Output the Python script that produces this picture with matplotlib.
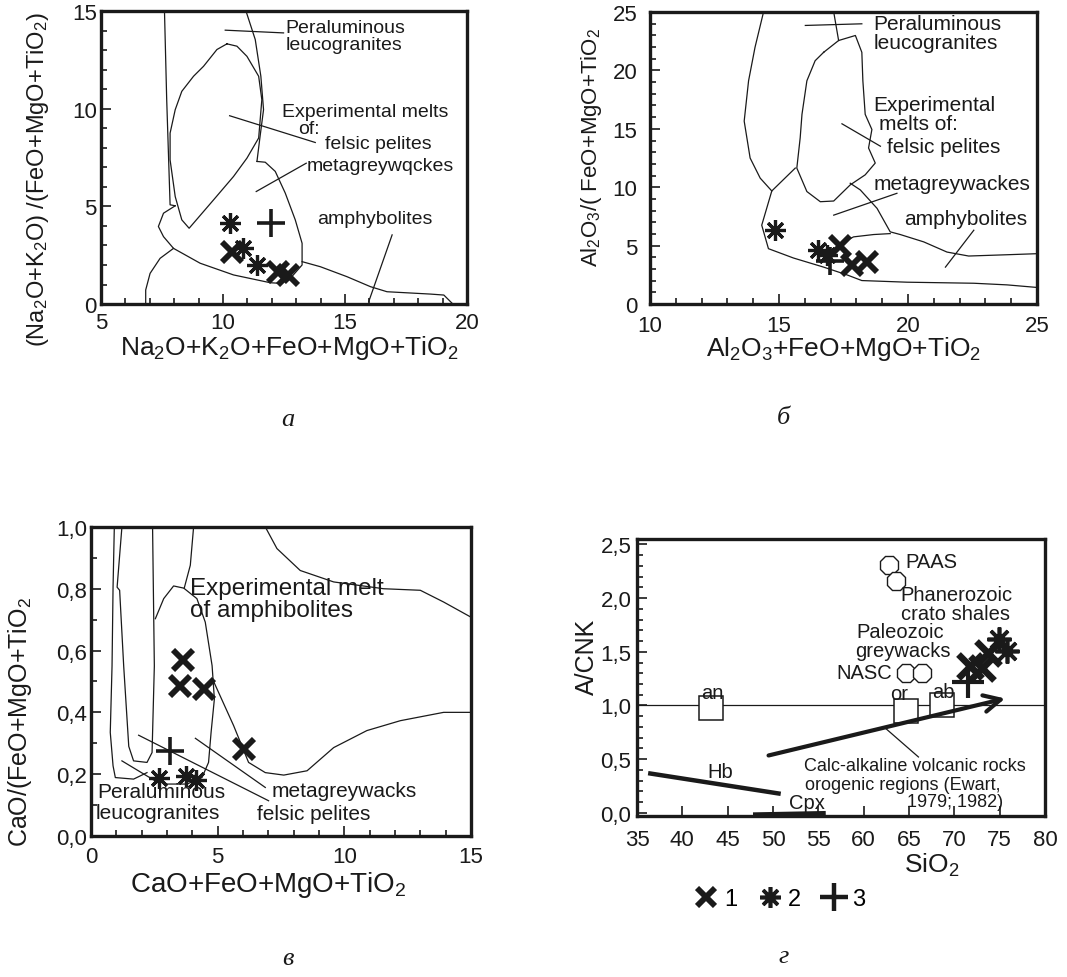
import numpy as np
import matplotlib.pyplot as plt
from matplotlib.lines import Line2D
from matplotlib.ticker import MultipleLocator, FuncFormatter

plt.rcParams['font.family'] = ['Liberation Sans', 'DejaVu Sans']
plt.rcParams['mathtext.fontset'] = 'custom'
plt.rcParams['mathtext.rm'] = 'Liberation Sans'
plt.rcParams['mathtext.it'] = 'Liberation Sans:italic'
plt.rcParams['mathtext.bf'] = 'Liberation Sans:bold'

INK = '#1a1a1a'

# ---------------- panel a: (Na2O+K2O)/(FeO+MgO+TiO2) ----------------
a_x1 = [10.36, 12.26, 12.67]
a_y1 = [2.68, 1.64, 1.49]
a_x2 = [10.29, 10.82, 11.39]
a_y2 = [4.14, 2.87, 2.00]
a_x3 = [11.97]
a_y3 = [4.14]

a_fields = [
    [(7.60, 15.0), (7.69, 10.5), (7.83, 5.08), (8.04, 5.03)],
    [(10.94, 15.0), (11.32, 13.54), (11.55, 11.66), (11.66, 9.95), (11.50, 8.41), (11.39, 7.30)],
    [(10.16, 13.32), (10.57, 13.20), (10.98, 12.68), (11.46, 11.66), (11.59, 10.46), (11.46, 8.50),
     (10.98, 7.47), (10.43, 6.53), (9.61, 5.33), (8.79, 4.14), (8.61, 3.88), (8.31, 4.31),
     (8.04, 5.50), (7.83, 7.38), (7.83, 8.75), (8.04, 9.95), (8.31, 10.89), (8.79, 11.66),
     (9.20, 12.17), (9.75, 13.03), (10.16, 13.32)],
    [(8.04, 5.03), (7.56, 4.65), (7.35, 3.97), (7.56, 3.45), (7.97, 2.85), (9.06, 2.09),
     (10.43, 1.49), (11.94, 1.09), (12.35, 1.06), (12.76, 1.32), (13.24, 2.00), (13.24, 3.11),
     (12.96, 4.31), (12.55, 5.68), (12.14, 6.79), (11.73, 7.26), (11.39, 7.30)],
    [(6.83, 0.0), (6.83, 0.72), (7.01, 1.57), (7.42, 2.34), (7.97, 2.85)],
    [(13.24, 2.17), (13.99, 1.91), (15.08, 1.40), (16.04, 0.89), (16.72, 0.63),
     (18.50, 0.51), (19.05, 0.46), (19.42, 0.0)],
]
a_leaders = [
    [(10.09, 14.02), (12.48, 13.88)],
    [(10.27, 9.64), (13.78, 8.27)],
    [(11.36, 5.76), (13.41, 7.21)],
    [(16.93, 3.54), (15.97, 0.12)],
]
a_labels = [
    ('Peraluminous', 12.55, 14.14), ('leucogranites', 12.55, 13.28),
    ('Experimental melts', 12.41, 9.88), ('of:', 13.07, 8.98),
    ('felsic pelites', 14.19, 8.20), ('metagreywqckes', 13.44, 7.09),
    ('amphybolites', 13.85, 4.39),
]

# ---------------- panel b: Al2O3/(FeO+MgO+TiO2) ----------------
b_x1 = [17.35, 17.83, 18.41]
b_y1 = [5.00, 3.30, 3.60]
b_x2 = [14.85, 16.53, 16.85]
b_y2 = [6.32, 4.59, 4.20]
b_x3 = [16.98]
b_y3 = [3.65]

b_fields = [
    [(14.40, 25.0), (14.07, 21.98), (13.82, 19.11), (13.65, 15.66), (13.88, 12.50),
     (14.27, 10.78), (14.72, 9.68)],
    [(17.12, 25.0), (17.31, 22.56)],
    [(16.73, 21.55), (17.31, 22.56), (17.96, 22.99), (18.21, 21.55), (18.25, 19.11),
     (18.34, 16.24), (18.60, 14.94), (18.47, 13.36), (18.73, 12.07), (18.34, 11.06),
     (17.76, 10.20), (17.12, 8.82), (16.60, 8.76), (16.08, 9.63), (15.69, 11.64),
     (15.82, 14.22), (15.89, 16.24), (16.08, 19.11), (16.40, 20.83), (16.73, 21.55)],
    [(15.63, 11.64), (14.72, 9.68), (14.33, 6.75), (14.59, 4.74), (15.56, 3.94),
     (16.73, 3.16), (17.63, 2.50), (18.21, 2.01), (19.96, 1.87), (22.55, 1.78),
     (23.84, 1.64), (25.0, 1.42)],
    [(17.76, 10.34), (18.15, 9.77), (18.80, 8.19), (19.31, 6.18), (19.70, 5.95),
     (20.61, 5.32), (21.51, 4.45), (22.35, 4.11), (23.84, 4.22), (25.0, 4.31)],
    [(17.12, 4.68), (17.37, 5.17), (17.89, 5.75), (18.67, 5.95), (19.31, 6.03)],
]
b_leaders = [
    [(16.02, 23.85), (18.21, 23.99)],
    [(17.44, 15.43), (18.93, 13.51)],
    [(17.12, 7.61), (19.57, 9.48)],
    [(21.45, 3.16), (22.55, 6.32)],
]
b_labels = [
    ('Peraluminous', 18.67, 23.99), ('leucogranites', 18.67, 22.41),
    ('Experimental', 18.67, 17.10), ('melts of:', 18.86, 15.43),
    ('felsic pelites', 19.18, 13.51), ('metagreywackes', 18.67, 10.34),
    ('amphybolites', 19.83, 7.33),
]

# ---------------- panel c: CaO/(FeO+MgO+TiO2) ----------------
c_x1 = [3.63, 3.53, 4.45, 6.05]
c_y1 = [0.568, 0.486, 0.476, 0.283]
c_x2 = [2.67, 3.75, 4.15]
c_y2 = [0.189, 0.195, 0.180]
c_x3 = [3.13]
c_y3 = [0.276]

c_fields = [
    [(0.92, 1.0), (0.87, 0.805), (0.83, 0.55), (0.76, 0.335), (0.87, 0.227),
     (0.96, 0.189), (1.68, 0.184), (2.21, 0.205)],
    [(1.22, 1.0), (1.03, 0.805), (1.13, 0.795), (1.29, 0.55), (1.49, 0.29), (1.68, 0.243),
     (2.21, 0.238), (2.41, 0.27), (2.50, 0.55), (2.43, 1.0)],
    [(2.54, 0.703), (2.87, 0.768), (3.26, 0.809), (3.66, 0.802), (4.18, 0.768),
     (4.51, 0.692), (4.78, 0.551), (4.87, 0.443), (4.74, 0.335), (4.64, 0.238),
     (4.38, 0.189), (3.79, 0.168), (3.00, 0.168), (2.61, 0.184)],
    [(3.68, 0.802), (3.92, 0.876), (4.05, 1.0)],
    [(6.88, 1.0), (7.34, 0.93), (8.26, 0.859), (9.58, 0.822), (11.55, 0.80),
     (13.0, 0.795), (13.92, 0.757), (15.0, 0.708)],
    [(4.84, 0.50), (5.63, 0.357), (6.22, 0.238), (6.88, 0.205), (7.61, 0.197),
     (8.53, 0.211), (9.58, 0.286), (10.89, 0.341), (12.21, 0.373), (13.92, 0.40),
     (15.0, 0.40)],
]
c_leaders = [
    [(1.88, 0.326), (7.01, 0.114)],
    [(4.12, 0.316), (6.88, 0.157)],
    [(1.22, 0.243), (2.74, 0.168)],
]
c_labels = [
    ('Experimental melt', 3.92, 0.802, 17.5), ('of amphibolites', 3.92, 0.730, 17.5),
    ('Peraluminous', 0.24, 0.143, 15), ('leucogranites', 0.17, 0.076, 15),
    ('metagreywacks', 7.14, 0.146, 15), ('felsic pelites', 6.55, 0.074, 15),
]

# ---------------- panel d: A/CNK vs SiO2 ----------------
d_x1 = [71.74, 73.00, 73.76]
d_y1 = [1.37, 1.35, 1.49]
d_x2 = [74.97, 75.78]
d_y2 = [1.615, 1.506]
d_x3 = [71.55]
d_y3 = [1.217]

d_min_x = [43.16, 64.68, 68.60]          # an, or, ab
d_min_y = [0.98, 0.95, 1.00]
d_min_names = ['an', 'or', 'ab']
d_min_lab = [(43.27, 1.12), (63.95, 1.11), (68.80, 1.13)]
d_ref_x = [62.74, 63.58, 64.68, 66.41]   # PAAS, crato shales, NASC x2
d_ref_y = [2.31, 2.16, 1.30, 1.30]
d_trend = [(49.51, 0.534), (75.60, 1.065)]
d_hb = [(36.47, 0.366), (50.61, 0.18)]
d_cpx = [(48.04, -0.016), (55.57, -0.004)]
d_leader = [(62.37, 0.79), (66.04, 0.52)]
d_labels = [
    ('PAAS', 64.57, 2.345, 'left', 14.5), ('Phanerozoic', 64.10, 2.034, 'left', 14.5),
    ('crato shales', 64.13, 1.857, 'left', 14.5), ('Paleozoic', 59.17, 1.693, 'left', 14.5),
    ('greywacks', 59.06, 1.516, 'left', 14.5), ('NASC', 63.10, 1.304, 'right', 14.5),
    ('Hb', 44.18, 0.388, 'center', 14.5), ('Cpx', 53.74, 0.100, 'center', 14.5),
    ('Calc-alkaline volcanic rocks', 53.37, 0.444, 'left', 13),
    ('orogenic regions (Ewart,', 53.55, 0.264, 'left', 13),
    ('1979; 1982)', 64.76, 0.109, 'left', 13),
]


def comma(v, pos):
    return ('%.1f' % v).replace('.', ',')


def frame(ax, xlim, ylim, xmaj, xmin, ymaj, ymin, xpad, ypad):
    ax.set_xlim(*xlim)
    ax.set_ylim(*ylim)
    ax.xaxis.set_major_locator(MultipleLocator(xmaj))
    ax.yaxis.set_major_locator(MultipleLocator(ymaj))
    if xmin:
        ax.xaxis.set_minor_locator(MultipleLocator(xmin))
    if ymin:
        ax.yaxis.set_minor_locator(MultipleLocator(ymin))
    ax.tick_params(which='both', direction='in', top=False, right=False,
                   width=1.2, color=INK, labelcolor=INK, labelsize=16)
    ax.tick_params(which='major', length=7)
    ax.tick_params(which='minor', length=4)
    ax.tick_params(axis='x', pad=xpad)
    ax.tick_params(axis='y', pad=ypad)
    for s in ax.spines.values():
        s.set_linewidth(2.4)
        s.set_color(INK)


def draw_lines(ax, lines, lw=0.9):
    for pts in lines:
        xs, ys = zip(*pts)
        ax.plot(xs, ys, color=INK, lw=lw, solid_joinstyle='round')


def draw_points(ax, x1, y1, x2, y2, x3, y3, k=1.0):
    ax.plot(x1, y1, ls='none', marker='x', ms=15 * k, mew=4.2 * k, color=INK)
    ax.plot(x2, y2, ls='none', marker=(8, 2, 0), ms=15 * k, mew=2.3 * k, color=INK)
    ax.plot(x3, y3, ls='none', marker='+', ms=20 * k, mew=2.6 * k, color=INK)


def put_labels(ax, labels, size):
    for t, x, y in labels:
        ax.text(x, y, t, ha='left', va='center', fontsize=size, color=INK)


def axis_labels(ax, xl, yl, xpos, ypos, xs, ys):
    ax.set_xlabel(xl, fontsize=xs, color=INK)
    ax.set_ylabel(yl, fontsize=ys, color=INK)
    ax.xaxis.set_label_coords(*xpos)
    ax.yaxis.set_label_coords(*ypos)
    ax.xaxis.label.set_va('center')
    ax.yaxis.label.set_va('center')


fig = plt.figure(figsize=(10.67, 9.78), dpi=100)

# ---- a ----
ax = fig.add_axes([0.0947, 0.6881, 0.343, 0.2996])
frame(ax, (5, 20), (0, 15), 5, 1, 5, 1, 6, 3)
draw_lines(ax, a_fields)
draw_lines(ax, a_leaders)
put_labels(ax, a_labels, 14)
draw_points(ax, a_x1, a_y1, a_x2, a_y2, a_x3, a_y3)
axis_labels(ax, r'Na$_\mathregular{2}$O+K$_\mathregular{2}$O+FeO+MgO+TiO$_\mathregular{2}$',
            r'(Na$_\mathregular{2}$O+K$_\mathregular{2}$O) /(FeO+MgO+TiO$_\mathregular{2}$)',
            (0.516, -0.145), (-0.172, 0.427), 19, 17)

# ---- b ----
ax = fig.add_axes([0.6092, 0.6881, 0.3627, 0.2986])
frame(ax, (10, 25), (0, 25), 5, 1, 5, 1, 8, 9)
draw_lines(ax, b_fields)
draw_lines(ax, b_leaders)
put_labels(ax, b_labels, 15)
draw_points(ax, b_x1, b_y1, b_x2, b_y2, b_x3, b_y3)
axis_labels(ax, r'Al$_\mathregular{2}$O$_\mathregular{3}$+FeO+MgO+TiO$_\mathregular{2}$',
            r'Al$_\mathregular{2}$O$_\mathregular{3}$/( FeO+MgO+TiO$_\mathregular{2}$',
            (0.499, -0.152), (-0.15, 0.54), 19, 16)

# ---- c ----
ax = fig.add_axes([0.0853, 0.1442, 0.3561, 0.316])
frame(ax, (0, 15), (0, 1.0), 5, 1, 0.2, 0.1, 7, 3)
ax.yaxis.set_major_formatter(FuncFormatter(comma))
draw_lines(ax, c_fields)
draw_lines(ax, c_leaders)
for t, x, y, s in c_labels:
    ax.text(x, y, t, ha='left', va='center', fontsize=s, color=INK)
draw_points(ax, c_x1, c_y1, c_x2, c_y2, c_x3, c_y3)
axis_labels(ax, r'CaO+FeO+MgO+TiO$_\mathregular{2}$',
            r'CaO/(FeO+MgO+TiO$_\mathregular{2}$',
            (0.466, -0.155), (-0.187, 0.372), 20, 18)

# ---- d ----
ax = fig.add_axes([0.597, 0.1646, 0.3824, 0.2832])
frame(ax, (35, 80), (-0.03, 2.55), 5, None, 0.5, 0.1, 9, 4)
ax.yaxis.set_major_formatter(FuncFormatter(comma))
ax.axhline(1.0, color=INK, lw=0.9)
ax.plot(d_min_x, d_min_y, ls='none', marker='s', ms=17, mfc='white', mec=INK, mew=1.1)
for name, (x, y) in zip(d_min_names, d_min_lab):
    ax.text(x, y, name, ha='center', va='center', fontsize=14.5, color=INK)
ax.plot(d_ref_x, d_ref_y, ls='none', marker='8', ms=14, mfc='white', mec=INK, mew=1.0)
ax.annotate('', xy=d_trend[1], xytext=d_trend[0],
            arrowprops=dict(arrowstyle='->', lw=3, color=INK, mutation_scale=30,
                            shrinkA=0, shrinkB=0))
draw_lines(ax, [d_hb], lw=3.2)
xs, ys = zip(*d_cpx)
ax.plot(xs, ys, color=INK, lw=3.2, clip_on=False)
draw_lines(ax, [d_leader])
for t, x, y, ha, s in d_labels:
    ax.text(x, y, t, ha=ha, va='center', fontsize=s, color=INK)
draw_points(ax, d_x1, d_y1, d_x2, d_y2, d_x3, d_y3, k=1.15)
axis_labels(ax, r'SiO$_\mathregular{2}$', 'A/CNK',
            (0.723, -0.173), (-0.123, 0.578), 19, 18)

handles = [
    Line2D([], [], ls='none', marker='x', ms=13, mew=4.2, color=INK),
    Line2D([], [], ls='none', marker=(8, 2, 0), ms=15, mew=2.6, color=INK),
    Line2D([], [], ls='none', marker='+', ms=20, mew=3.2, color=INK),
]
ax.legend(handles, ['1', '2', '3'], loc='center', bbox_to_anchor=(0.35, -0.30),
          ncol=3, frameon=False, fontsize=17, handlelength=1.0,
          handletextpad=0.25, columnspacing=0.9)

# panel letters
for t, x, y in [('а', 0.270, 0.571), ('б', 0.734, 0.573),
                ('в', 0.270, 0.019), ('г', 0.734, 0.021)]:
    fig.text(x, y, t, ha='center', va='center', fontsize=19, style='italic',
             family=['Liberation Serif', 'DejaVu Serif'], color=INK)

fig.savefig('out.png', dpi=100)
